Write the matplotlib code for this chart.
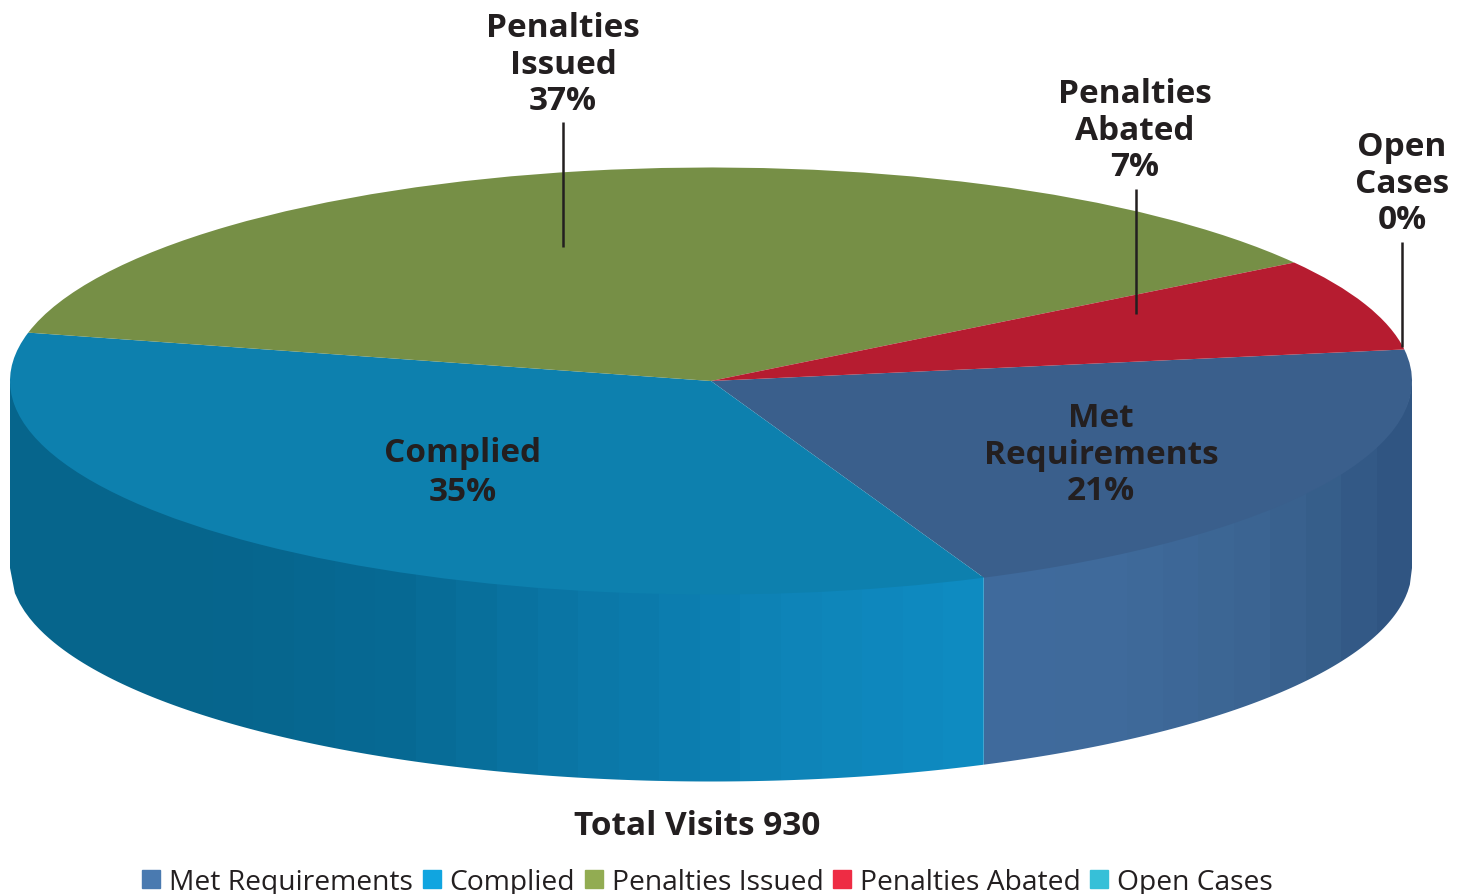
#!/usr/bin/env python3
# -*- coding: utf-8 -*-
import numpy as np
import matplotlib
matplotlib.use('Agg')
import matplotlib.pyplot as plt
from matplotlib.colors import to_rgb
from matplotlib.patches import Patch, Polygon

#%% data
categories = ['Met Requirements', 'Complied', 'Penalties Issued', 'Penalties Abated', 'Open Cases']
values = [21, 35, 37, 7, 0]
total_visits = 930

top_colors = ['#3a5f8c', '#0d80ae', '#768f46', '#b61c30', '#2fb0c8']
legend_colors = ['#4a7ab0', '#10a5e0', '#92ac52', '#ee2c44', '#36c0d8']

#%% geometry in pixels
W, H = 1464, 895
cx, cy, rx, ry = 711, 382, 701, 213.5
depth = 187
start = 8.5  # deg, clockwise from there

TXT = '#231f20'
LABEL_FONT = ['Open Sans', 'DejaVu Sans']

fig = plt.figure(figsize=(W/100, H/100), dpi=100)

#%% side wall
ax = fig.add_axes([0, 0, 1, 1], zorder=1)

def wall(x0, x1, stops, n=16):
    # shaded facets, clipped to the outline of the wall
    x = np.linspace(x0, x1, 200)
    y = cy + ry*np.sqrt(np.clip(1 - ((x - cx)/rx)**2, 0, 1))
    outline = np.r_[np.c_[x, y - 2], np.c_[x[::-1], y[::-1] + depth]]
    clip = Polygon(outline, closed=True, transform=ax.transData, fc='none', ec='none')
    ax.add_patch(clip)
    pos = np.linspace(0, 1, len(stops))
    rgb = np.array([to_rgb(c) for c in stops])
    t = (np.arange(n) + 0.5)/n
    col = np.stack([np.interp(t, pos, rgb[:, i]) for i in range(3)], axis=1)
    im = ax.imshow(col[np.newaxis, :, :], extent=(x0, x1, H, 0), aspect='auto',
                   interpolation='nearest')
    im.set_clip_path(clip)

# the boundary between both wall parts is where the Met slice ends
split = np.radians(start - values[0]/sum(values)*360)
x_split = cx + rx*np.cos(split)
wall(cx - rx, x_split, ['#06658c', '#06658c', '#076a94', '#0b78a8', '#0e84b8', '#0e8cc3'], n=24)
wall(x_split, cx + rx, ['#406b9d', '#3f6a9b', '#3b6491', '#2f5480'], n=12)

ax.set_xlim(0, W)
ax.set_ylim(H, 0)
ax.axis('off')

#%% top of the pie
ax_pie = fig.add_axes([(cx - rx)/W, 1 - (cy + ry)/H, 2*rx/W, 2*ry/H], zorder=2)
ax_pie.pie(values, colors=top_colors, startangle=start, counterclock=False, radius=1)
ax_pie.set_aspect('auto')
ax_pie.set_xlim(-1, 1)
ax_pie.set_ylim(-1, 1)
ax_pie.patch.set_alpha(0)

#%% labels
ax_t = fig.add_axes([0, 0, 1, 1], zorder=3)
ax_t.set_xlim(0, W)
ax_t.set_ylim(H, 0)
ax_t.axis('off')

for x, y0, y1 in [(563, 123, 248), (1136, 190, 315), (1402, 243, 348)]:
    ax_t.plot([x, x], [y0, y1], color=TXT, lw=1.8, solid_capstyle='butt')

def lab(x, y, s, ls=1.135):
    ax_t.text(x, y, s, ha='center', va='center', color=TXT, family=LABEL_FONT,
              fontweight='bold', fontsize=24, linespacing=ls)

lab(563, 65, 'Penalties\nIssued\n37%')
lab(1135, 131, 'Penalties\nAbated\n7%')
lab(1402, 184, 'Open\nCases\n0%')
lab(1101, 455, 'Met\nRequirements\n21%')
lab(463, 473, 'Complied\n35%', ls=1.21)
lab(697, 827, 'Total Visits {}'.format(total_visits))

#%% legend
handles = [Patch(color=c, label=n) for c, n in zip(legend_colors, categories)]
leg = ax_t.legend(handles=handles, ncol=5, loc='center', bbox_to_anchor=(707.5/W, 1 - 883/H),
                  frameon=False, borderpad=0, borderaxespad=0, handlelength=0.64, handleheight=0.64,
                  handletextpad=0.32, columnspacing=0.33,
                  prop={'family': 'Open Sans', 'size': 20.3})
for t in leg.get_texts():
    t.set_color(TXT)

#%% save
fig.savefig('out.png', dpi=100)
